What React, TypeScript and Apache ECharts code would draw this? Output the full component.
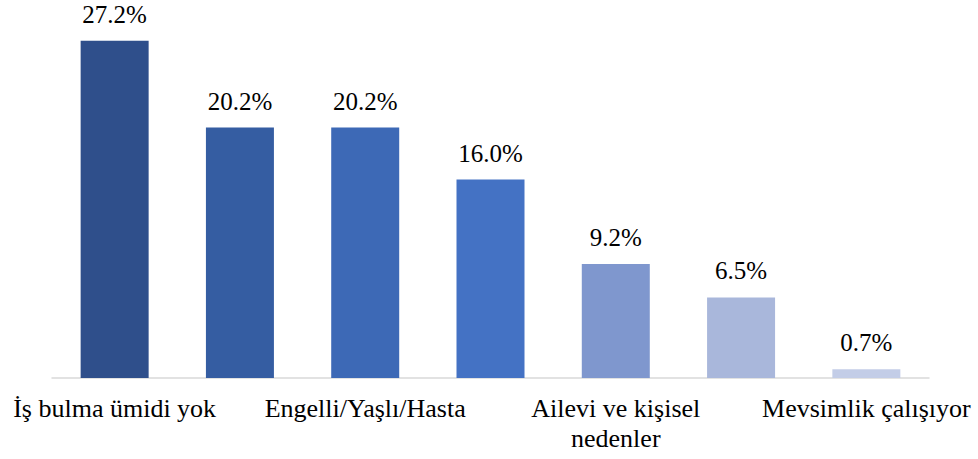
import React, { useEffect, useRef } from "react";
import * as echarts from "echarts";

const categories = [
  "İş bulma ümidi yok",
  "Ev işleriyle meşgul",
  "Engelli/Yaşlı/Hasta",
  "Emekli",
  "Ailevi ve kişisel\nnedenler",
  "Eğitim/Öğretim",
  "Mevsimlik çalışıyor",
];
const values = [27.2, 20.2, 20.2, 16.0, 9.2, 6.5, 0.7];
const barColors = ["#2F4F8B", "#355DA2", "#3D69B6", "#4472C4", "#7F97CE", "#A9B7DB", "#C3CDE7"];

const FONT = "'Liberation Serif', 'Times New Roman', serif";

export default function App() {
  const ref = useRef<HTMLDivElement>(null);
  useEffect(() => {
    if (!ref.current) return;
    const chart = echarts.init(ref.current, null, { renderer: "svg" });
    chart.setOption({
      animation: false,
      backgroundColor: "#ffffff",
      textStyle: { fontFamily: FONT },
      grid: { left: 52, right: 49, top: 6, bottom: 81, containLabel: false, outerBoundsMode: "none" },
      xAxis: {
        type: "category",
        data: categories,
        axisLine: { show: true, lineStyle: { color: "#d9d9d9", width: 1.5 } },
        axisTick: { show: false },
        axisLabel: {
          interval: 1,
          showMinLabel: true,
          showMaxLabel: true,
          hideOverlap: false,
          margin: 15,
          color: "#000000",
          fontFamily: FONT,
          fontSize: 26,
          lineHeight: 30,
        },
      },
      yAxis: {
        type: "value",
        min: 0,
        max: 30,
        show: false,
        splitLine: { show: false },
      },
      series: [
        {
          type: "bar",
          barWidth: 68,
          data: values.map((v, i) => ({ value: v, itemStyle: { color: barColors[i] } })),
          label: {
            show: true,
            position: "top",
            distance: 14,
            color: "#000000",
            fontFamily: FONT,
            fontSize: 25,
            formatter: (p: any) => p.value.toFixed(1) + "%",
          },
        },
      ],
    });
    return () => chart.dispose();
  }, []);
  return <div ref={ref} style={{ width: 978, height: 459, position: "absolute", left: 0, top: 0 }} />;
}
